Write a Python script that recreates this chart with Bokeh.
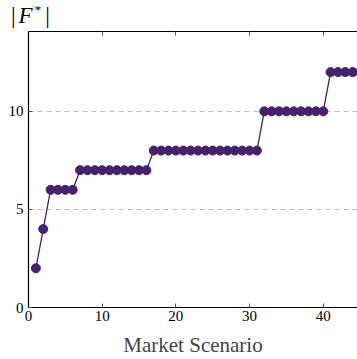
from bokeh.plotting import figure
from bokeh.models import Range1d, LinearAxis, FixedTicker, Div
from bokeh.layouts import column
from bokeh.embed import file_html
from bokeh.resources import INLINE

scenarios = list(range(1, 46))
f_size = [2, 4, 6, 6, 6, 6] + [7] * 10 + [8] * 15 + [10] * 9 + [12] * 5
x_ticks = [0, 10, 20, 30, 40]
y_ticks = [0, 5, 10]

COLOR = "#47206e"
FONT = "Liberation Serif"

title = Div(text='<span>|<i style="margin-left:3px;">F</i>'
                 '<span style="font-size:13px;position:relative;top:-9px;margin-left:2px;">*</span>'
                 '<span style="margin-left:4px;">|</span></span>',
            width=357, height=31, margin=(0, 0, 0, 0),
            styles={"font-family": FONT, "font-size": "23px", "color": "black",
                    "padding-left": "11px", "padding-top": "4px", "line-height": "24px"})

p = figure(width=357, height=328, output_backend="svg", toolbar_location=None,
           x_range=Range1d(0, 44.65), y_range=Range1d(0, 14.07),
           min_border_left=28, min_border_top=0, min_border_bottom=52,
           min_border_right=0, outline_line_color=None, margin=(0, 0, 0, 0),
           background_fill_color="white", border_fill_color="white")

p.line(scenarios, f_size, line_color=COLOR, line_width=1.3)
p.scatter(scenarios, f_size, size=9, fill_color=COLOR, line_color=COLOR)

for ax in (p.xaxis[0], p.yaxis[0]):
    ax.major_tick_in = 4
    ax.major_tick_out = 0
    ax.minor_tick_line_color = None
    ax.axis_line_color = "black"
    ax.axis_line_width = 1.2
    ax.major_tick_line_color = "#555555"
    ax.major_label_text_font = FONT
    ax.major_label_text_font_size = "15px"
    ax.major_label_text_color = "black"

p.xaxis[0].ticker = FixedTicker(ticks=x_ticks)
p.yaxis[0].ticker = FixedTicker(ticks=y_ticks)
p.xaxis[0].major_label_standoff = 3
p.yaxis[0].major_label_standoff = 5
p.xaxis[0].axis_label = "Market Scenario"
p.xaxis[0].axis_label_text_font = FONT
p.xaxis[0].axis_label_text_font_size = "21px"
p.xaxis[0].axis_label_text_font_style = "normal"
p.xaxis[0].axis_label_standoff = 9

top = LinearAxis(ticker=FixedTicker(ticks=x_ticks), major_label_text_font_size="0px",
                 major_tick_in=4, major_tick_out=0, minor_tick_line_color=None,
                 axis_line_width=1.2, major_tick_line_color="#555555",
                 major_label_standoff=0)
top.major_label_overrides = {t: "" for t in x_ticks}
p.add_layout(top, "above")

p.xgrid.grid_line_color = None
p.ygrid.ticker = FixedTicker(ticks=[5, 10])
p.ygrid.grid_line_color = "#bdbdbd"
p.ygrid.grid_line_dash = "5 4"
p.ygrid.grid_line_width = 1

layout = column(title, p, spacing=0, margin=(0, 0, 0, 0))
open("out.html", "w").write(file_html(layout, INLINE))
